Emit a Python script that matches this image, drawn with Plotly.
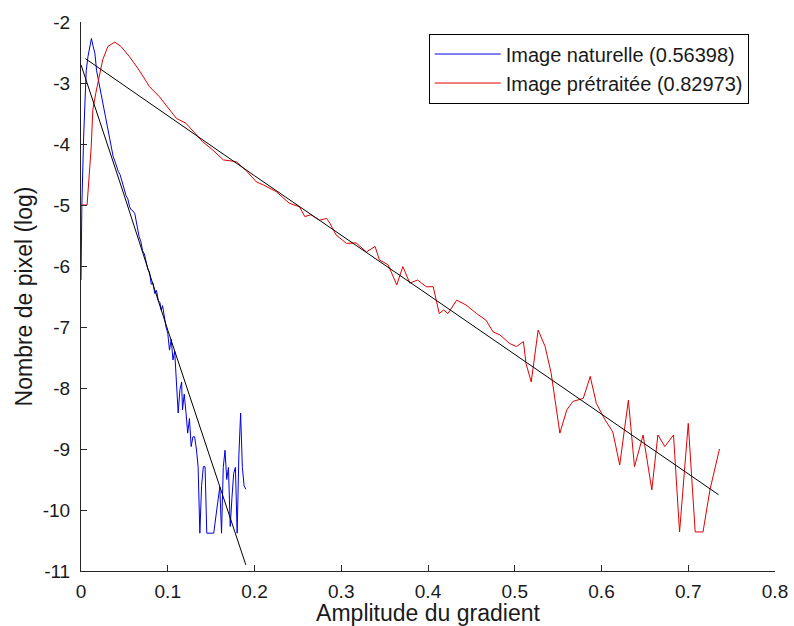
import plotly.graph_objects as go

# --- data (log pixel count vs gradient amplitude) ---
nat_x = [0.000, 0.001, 0.003, 0.004, 0.006, 0.008, 0.010, 0.012, 0.014, 0.016,
         0.018, 0.020, 0.023, 0.025, 0.027, 0.029, 0.031, 0.033, 0.035, 0.037,
         0.039, 0.041, 0.043, 0.045, 0.048, 0.050, 0.052, 0.054, 0.056, 0.058,
         0.060, 0.062, 0.064, 0.067, 0.069, 0.071, 0.073, 0.075, 0.077, 0.079,
         0.081, 0.083, 0.085, 0.087, 0.089, 0.091, 0.0925, 0.094, 0.096, 0.098,
         0.100, 0.102, 0.104, 0.106, 0.108, 0.110, 0.112, 0.114, 0.116, 0.117,
         0.119, 0.121, 0.123, 0.125, 0.127, 0.129, 0.131, 0.133, 0.135, 0.137,
         0.139, 0.141, 0.143, 0.145, 0.147, 0.149, 0.151, 0.153, 0.156, 0.158,
         0.160, 0.162, 0.164, 0.166, 0.168, 0.170, 0.172, 0.174, 0.176, 0.178,
         0.180, 0.182, 0.184, 0.186, 0.188, 0.190]
nat_y = [-6.23, -5.0, -3.9, -3.44, -2.8, -2.57, -2.4, -2.27, -2.4, -2.51,
         -2.8, -2.95, -3.17, -3.3, -3.48, -3.6, -3.75, -3.92, -4.1, -4.2,
         -4.28, -4.37, -4.45, -4.5, -4.64, -4.72, -4.85, -4.9, -5.03, -5.08,
         -5.1, -5.14, -5.3, -5.52, -5.6, -5.75, -5.8, -5.95, -6.05, -6.1,
         -6.3, -6.28, -6.45, -6.4, -6.56, -6.6, -6.72, -6.65, -6.85, -7.0,
         -7.1, -7.38, -7.2, -7.54, -7.4, -7.87, -8.41, -8.03, -7.9, -8.36,
         -8.1, -8.4, -8.74, -8.5, -8.96, -8.8, -8.8, -9.0, -9.29, -10.38,
         -9.6, -9.29, -9.29, -10.38, -10.38, -10.38, -10.38, -10.38, -10.05, -9.8,
         -9.62, -10.38, -9.3, -9.02, -9.5, -9.3, -10.27, -9.8, -9.4, -9.3,
         -10.38, -9.1, -8.41, -9.3, -9.6, -9.66]

pre_x = [0.000, 0.007, 0.0118, 0.0136, 0.017, 0.021, 0.025, 0.031, 0.039, 0.046,
         0.056, 0.067, 0.079, 0.090, 0.102, 0.110, 0.121, 0.133, 0.140, 0.152,
         0.164, 0.179, 0.190, 0.202, 0.210, 0.225, 0.240, 0.252, 0.258, 0.265,
         0.275, 0.283, 0.287, 0.294, 0.306, 0.317, 0.329, 0.339, 0.344, 0.354,
         0.364, 0.371, 0.379, 0.388, 0.398, 0.406, 0.413, 0.418, 0.423, 0.433,
         0.444, 0.456, 0.467, 0.475, 0.483, 0.494, 0.502, 0.510, 0.513, 0.519,
         0.527, 0.535, 0.542, 0.552, 0.560, 0.567, 0.579, 0.587, 0.594, 0.604,
         0.613, 0.621, 0.631, 0.638, 0.648, 0.658, 0.665, 0.673, 0.683, 0.690,
         0.700, 0.708, 0.717, 0.725, 0.736]
pre_y = [-5.0, -5.0, -4.04, -3.44, -3.17, -2.9, -2.62, -2.4, -2.33, -2.4,
         -2.57, -2.79, -3.06, -3.22, -3.44, -3.58, -3.66, -3.85, -3.96, -4.10,
         -4.26, -4.29, -4.43, -4.62, -4.67, -4.78, -4.97, -5.03, -5.19, -5.16,
         -5.25, -5.22, -5.3, -5.49, -5.63, -5.62, -5.77, -5.68, -5.9, -5.98,
         -6.31, -6.01, -6.28, -6.23, -6.34, -6.34, -6.78, -6.72, -6.78, -6.56,
         -6.64, -6.78, -6.89, -7.08, -7.13, -7.27, -7.32, -7.24, -7.6, -7.9,
         -7.05, -7.32, -7.76, -8.74, -8.36, -8.22, -8.17, -7.81, -8.25, -8.52,
         -8.72, -9.26, -8.2, -9.29, -8.77, -9.67, -8.77, -8.96, -8.77, -10.36,
         -8.58, -10.36, -10.36, -9.67, -9.0]

# fitted lines (black)
fit_nat_x = [0.0, 0.05, 0.10, 0.15, 0.19]
fit_nat_y = [-2.70, -4.85, -7.05, -9.20, -10.9]
fit_pre_x = [0.005, 0.2, 0.4, 0.6, 0.735]
fit_pre_y = [-2.60, -4.52, -6.47, -8.43, -9.75]

labels = ['Image naturelle (0.56398)', 'Image prétraitée (0.82973)']
x_ticks = [0, 0.1, 0.2, 0.3, 0.4, 0.5, 0.6, 0.7, 0.8]
x_ticktext = ['0', '0.1', '0.2', '0.3', '0.4', '0.5', '0.6', '0.7', '0.8']
y_ticks = [-11, -10, -9, -8, -7, -6, -5, -4, -3, -2]
y_ticktext = ['-11', '-10', '-9', '-8', '-7', '-6', '-5', '-4', '-3', '-2']

FONT = 'Liberation Sans, Arial, sans-serif'
AXIS_COLOR = '#262626'

fig = go.Figure()
fig.add_trace(go.Scatter(x=nat_x, y=nat_y, mode='lines', name=labels[0],
                         line=dict(color='#0000e0', width=1)))
fig.add_trace(go.Scatter(x=pre_x, y=pre_y, mode='lines', name=labels[1],
                         line=dict(color='#e00000', width=1)))
fig.add_trace(go.Scatter(x=fit_nat_x, y=fit_nat_y, mode='lines', showlegend=False,
                         line=dict(color='black', width=1)))
fig.add_trace(go.Scatter(x=fit_pre_x, y=fit_pre_y, mode='lines', showlegend=False,
                         line=dict(color='black', width=1)))

fig.update_layout(
    width=794, height=626,
    margin=dict(l=81, r=19, t=22, b=55),
    paper_bgcolor='white', plot_bgcolor='white',
    font=dict(family=FONT, size=19, color='#1a1a1a'),
    hovermode=False,
    legend=dict(x=0.501, y=0.979, xanchor='left', yanchor='top',
                bgcolor='white', bordercolor='black', borderwidth=1,
                font=dict(size=20), itemwidth=66),
)
fig.update_xaxes(range=[0, 0.8], tickvals=x_ticks, ticktext=x_ticktext,
                 ticks='inside', ticklen=6, tickcolor=AXIS_COLOR,
                 showline=True, linecolor=AXIS_COLOR, linewidth=1,
                 showgrid=False, zeroline=False, automargin=False,
                 ticklabelstandoff=3,
                 title=dict(text='Amplitude du gradient', standoff=3))
fig.update_yaxes(range=[-11, -2], tickvals=y_ticks, ticktext=y_ticktext,
                 ticks='inside', ticklen=6, tickcolor=AXIS_COLOR,
                 showline=True, linecolor=AXIS_COLOR, linewidth=1,
                 showgrid=False, zeroline=False, automargin=False,
                 ticklabelstandoff=6,
                 title=dict(text='Nombre de pixel (log)', standoff=3))

# drop the default page margin so the figure sits at the window's corner
fig.write_html("out.html", config={'displayModeBar': False},
               post_script="document.body.style.margin='0';")
